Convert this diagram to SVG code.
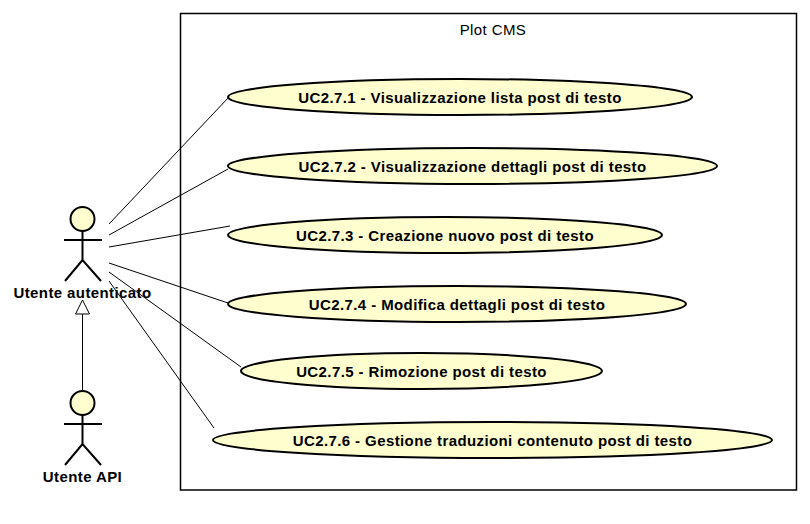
<svg xmlns="http://www.w3.org/2000/svg" width="810" height="524" viewBox="0 0 810 524">
<style>
.uc{fill:#FEFECE;stroke:#000;stroke-width:2}
.t{font-family:"Liberation Sans",Arial,sans-serif;font-size:15px;letter-spacing:0.4px;font-weight:bold;fill:#000;text-anchor:middle}
.title{font-family:"Liberation Sans",Arial,sans-serif;font-size:15px;letter-spacing:0.4px;fill:#000;text-anchor:middle}
.act{fill:none;stroke:#000;stroke-width:2}
.head{fill:#FEFECE;stroke:#000;stroke-width:2}
.ln{stroke:#000;stroke-width:1;fill:none}
</style>
<rect width="810" height="524" fill="#fff"/>
<g id="boundary">
<rect x="180.5" y="13.5" width="616" height="476.5" fill="none" stroke="#000" stroke-width="1.5"/>
<text class="title" x="493" y="35">Plot CMS</text>
</g>
<g id="connectors">
<line class="ln" x1="109" y1="224" x2="229" y2="97"/>
<line class="ln" x1="109" y1="235" x2="228" y2="169"/>
<line class="ln" x1="109" y1="247" x2="230" y2="226"/>
<line class="ln" x1="109" y1="263" x2="228" y2="303"/>
<line class="ln" x1="109" y1="272" x2="241" y2="367"/>
<line class="ln" x1="109" y1="281" x2="214" y2="428"/>
<line class="ln" x1="82.5" y1="391" x2="82.5" y2="314"/>
<polygon points="82.5,300 75.5,314 89.5,314" fill="#fff" stroke="#000" stroke-width="1"/>
</g>
<g id="actor-utente-autenticato">
<circle class="head" cx="82.5" cy="219" r="12"/>
<path class="act" d="M82.5 231V260M64 240H102M65 281L82.5 260L101 281"/>
<text class="t" x="82.5" y="298">Utente autenticato</text>
</g>
<g id="actor-utente-api">
<circle class="head" cx="82.5" cy="403" r="12"/>
<path class="act" d="M82.5 415V444M64 424H102M65 465L82.5 444L101 465"/>
<text class="t" x="82.5" y="482">Utente API</text>
</g>
<g id="uc1">
<ellipse class="uc" cx="460" cy="97" rx="232" ry="18"/>
<text class="t" x="460" y="103">UC2.7.1 - Visualizzazione lista post di testo</text>
</g>
<g id="uc2">
<ellipse class="uc" cx="472.5" cy="166" rx="244.5" ry="18"/>
<text class="t" x="472.5" y="172">UC2.7.2 - Visualizzazione dettagli post di testo</text>
</g>
<g id="uc3">
<ellipse class="uc" cx="445" cy="235" rx="217" ry="18"/>
<text class="t" x="445" y="241">UC2.7.3 - Creazione nuovo post di testo</text>
</g>
<g id="uc4">
<ellipse class="uc" cx="457" cy="304" rx="229" ry="18"/>
<text class="t" x="457" y="310">UC2.7.4 - Modifica dettagli post di testo</text>
</g>
<g id="uc5">
<ellipse class="uc" cx="421.5" cy="371" rx="180.5" ry="18"/>
<text class="t" x="421.5" y="377">UC2.7.5 - Rimozione post di testo</text>
</g>
<g id="uc6">
<ellipse class="uc" cx="492.5" cy="440" rx="279.5" ry="18"/>
<text class="t" x="492.5" y="446">UC2.7.6 - Gestione traduzioni contenuto post di testo</text>
</g>
</svg>
